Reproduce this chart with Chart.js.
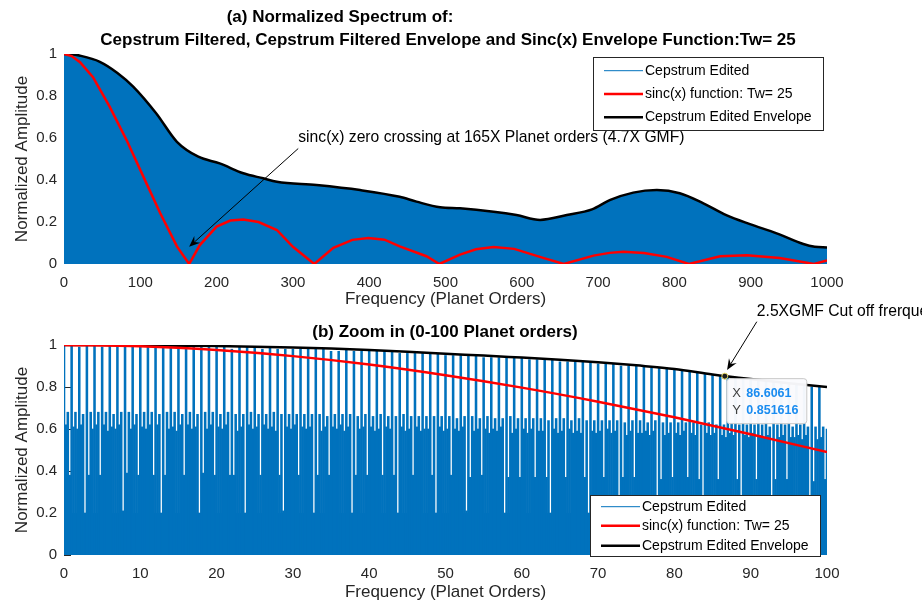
<!DOCTYPE html>
<html>
<head>
<meta charset="utf-8">
<title>Normalized Spectrum</title>
<script src="https://cdn.jsdelivr.net/npm/chart.js@4.4.1/dist/chart.umd.min.js"></script>
<style>
  html, body { margin: 0; padding: 0; background: #fff; }
  #wrap { position: relative; width: 922px; height: 605px; overflow: hidden; }
  canvas { position: absolute; left: 0; }
  #chart-full { top: 0; }
  #chart-zoom { top: 300px; }
</style>
</head>
<body>
<div id="wrap">
  <canvas id="chart-full" width="922" height="310"></canvas>
  <canvas id="chart-zoom" width="922" height="305"></canvas>
</div>
<script>
// --- (a) full spectrum, 0-1000 planet orders ---
const fullOrders   = [0,10,20,47,70,91,121,148,176,204,235,261,279,331,388,440,462,493,519,563,593,624,659,692,716,746,777,807,838,868,899,934,969,984,1000];
const fullEnvelope = [1.0,0.999,0.993,0.963,0.91,0.844,0.717,0.582,0.511,0.479,0.432,0.408,0.392,0.376,0.352,0.32,0.297,0.27,0.265,0.249,0.233,0.21,0.233,0.26,0.305,0.34,0.352,0.337,0.289,0.233,0.19,0.146,0.095,0.082,0.079];
const sincOrders   = [0,10,21,38,60,82,104,126,148,164,178,200,218,235,255,279,300,328,353,378,399,420,440,475,492,519,540,563,590,628,655,694,715,733,760,790,819,860,895,938,983,1000];
const sincValues   = [1.0,0.99,0.961,0.89,0.748,0.59,0.416,0.243,0.084,0.0,0.09,0.178,0.207,0.212,0.2,0.162,0.082,0.0,0.077,0.115,0.124,0.116,0.084,0.037,0.0,0.045,0.07,0.081,0.072,0.029,0.0,0.04,0.053,0.058,0.052,0.034,0.0,0.037,0.042,0.029,0.0,0.017];

// --- (b) zoom 0-100 planet orders ---
const zoomEnvOrders = [0,5,10,15,20,25,30,35,40,45,50,55,60,65,70,75,80,85,90,95,100];
const zoomEnvelope  = [1.0,1.0,0.999,0.997,0.995,0.992,0.988,0.983,0.976,0.968,0.958,0.95,0.94,0.93,0.918,0.903,0.886,0.86,0.838,0.818,0.80];
const zoomSincOrders = [0,10,20,30,40,50,60,70,80,90,100];
const zoomSinc       = [1.0,0.994,0.976,0.947,0.907,0.856,0.797,0.73,0.656,0.575,0.49];

// spike heights, one per planet order (0..100), and the lower spikes between them
const zoomTall = [
  1.00,1.00,0.99,1.00,1.00,0.99,1.00,1.00,0.99,0.99, 1.00,0.99,0.99,0.99,0.99,0.99,0.98,0.99,0.99,0.99,
  0.99,0.99,0.98,0.99,0.99,0.99,0.98,0.99,0.98,0.98, 0.98,0.98,0.98,0.98,0.98,0.97,0.97,0.98,0.97,0.97,
  0.97,0.97,0.97,0.97,0.96,0.96,0.96,0.96,0.96,0.96, 0.95,0.95,0.95,0.95,0.95,0.94,0.94,0.94,0.94,0.94,
  0.94,0.93,0.93,0.93,0.93,0.92,0.92,0.92,0.92,0.92, 0.91,0.91,0.91,0.90,0.90,0.90,0.90,0.89,0.89,0.89,
  0.88,0.88,0.87,0.87,0.86,0.86,0.85,0.85,0.84,0.84, 0.84,0.83,0.83,0.82,0.82,0.82,0.81,0.81,0.80,0.80,
  0.60
];
const zoomQuarter = [
  0.62,0.61,0.62,0.38,0.62,0.62,0.61,0.62,0.39,0.62,0.61,0.62,0.62,0.38,0.61,0.62,0.62,0.61,0.39,0.62,
  0.61,0.62,0.38,0.61,0.62,0.61,0.62,0.61,0.38,0.61,0.62,0.61,0.61,0.38,0.61,0.61,0.62,0.61,0.38,0.61,
  0.61,0.60,0.61,0.38,0.61,0.60,0.61,0.60,0.38,0.61,0.60,0.60,0.61,0.37,0.60,0.60,0.60,0.61,0.37,0.60,
  0.60,0.60,0.59,0.37,0.60,0.59,0.60,0.59,0.37,0.59,0.59,0.60,0.59,0.37,0.59,0.58,0.59,0.59,0.36,0.58,
  0.58,0.59,0.58,0.36,0.58,0.58,0.57,0.58,0.36,0.57,0.58,0.57,0.57,0.36,0.57,0.56,0.57,0.57,0.35,0.56
];
const zoomHalf = [
  0.68,0.68,0.67,0.68,0.68,0.68,0.67,0.68,0.68,0.67,0.68,0.68,0.67,0.68,0.68,0.67,0.68,0.67,0.68,0.68,
  0.67,0.68,0.67,0.67,0.68,0.67,0.67,0.68,0.67,0.67,0.67,0.67,0.67,0.67,0.66,0.67,0.67,0.67,0.66,0.67,
  0.66,0.67,0.66,0.66,0.67,0.66,0.66,0.66,0.66,0.66,0.66,0.65,0.66,0.66,0.65,0.66,0.65,0.65,0.66,0.65,
  0.65,0.65,0.65,0.64,0.65,0.65,0.64,0.65,0.64,0.64,0.64,0.64,0.64,0.63,0.64,0.64,0.63,0.64,0.63,0.63,
  0.63,0.63,0.63,0.62,0.63,0.62,0.62,0.63,0.62,0.62,0.62,0.62,0.61,0.62,0.62,0.61,0.62,0.61,0.61,0.61
];
const zoomThreeQuarter = [
  0.38,0.60,0.20,0.60,0.38,0.59,0.60,0.21,0.60,0.38,0.60,0.38,0.20,0.60,0.59,0.38,0.60,0.20,0.60,0.38,
  0.60,0.38,0.59,0.20,0.60,0.38,0.60,0.59,0.21,0.60,0.38,0.60,0.20,0.59,0.38,0.60,0.59,0.20,0.60,0.38,
  0.59,0.38,0.60,0.20,0.59,0.38,0.59,0.60,0.20,0.59,0.38,0.59,0.21,0.59,0.38,0.58,0.59,0.20,0.58,0.37,
  0.58,0.37,0.59,0.20,0.58,0.37,0.58,0.58,0.20,0.58,0.37,0.58,0.20,0.57,0.37,0.58,0.57,0.20,0.57,0.37,
  0.57,0.37,0.57,0.20,0.57,0.36,0.56,0.57,0.20,0.56,0.36,0.56,0.20,0.56,0.36,0.56,0.55,0.20,0.55,0.36
];
const zoomFloorOrders = [0, 100];
const zoomFloor       = [0.2, 0.2];

// data tip on the envelope
const tipX = 86.6061;
const tipY = 0.851616;

const BLUE = '#0072BD';
const RED = '#FF0000';
const TXT = '#262626';
const FONT = '"Liberation Sans", Arial, Helvetica, sans-serif';
const legendNames = ['Cepstrum Edited', 'sinc(x) function: Tw= 25', 'Cepstrum Edited Envelope'];

function xy(xs, ys){ return xs.map((x, i) => ({ x, y: ys[i] })); }
function spikes(ys, shift){ return ys.map((y, i) => ({ x: i + shift, y })); }

function arrow(ctx, x0, y0, x1, y1){
  const ang = Math.atan2(y1 - y0, x1 - x0);
  const len = 11, half = 4.5;
  ctx.save();
  ctx.strokeStyle = '#000'; ctx.fillStyle = '#000'; ctx.lineWidth = 1;
  ctx.beginPath();
  ctx.moveTo(x0, y0);
  ctx.lineTo(x1 - Math.cos(ang) * 7, y1 - Math.sin(ang) * 7);
  ctx.stroke();
  ctx.translate(x1, y1); ctx.rotate(ang);
  ctx.beginPath();
  ctx.moveTo(0, 0); ctx.lineTo(-len, -half); ctx.lineTo(-len * 0.65, 0); ctx.lineTo(-len, half);
  ctx.closePath(); ctx.fill();
  ctx.restore();
}

function drawLegend(ctx, bx, by, bw, bh, rows){
  const styles = [[BLUE, 1], [RED, 2.5], ['#000', 2.5]];
  ctx.save();
  ctx.fillStyle = '#fff';
  ctx.fillRect(bx, by, bw, bh);
  ctx.strokeStyle = TXT; ctx.lineWidth = 1;
  ctx.strokeRect(bx + 0.5, by + 0.5, bw, bh);
  ctx.font = '14px ' + FONT;
  ctx.textBaseline = 'middle'; ctx.textAlign = 'left';
  legendNames.forEach((name, i) => {
    ctx.strokeStyle = styles[i][0]; ctx.lineWidth = styles[i][1];
    ctx.beginPath(); ctx.moveTo(bx + 11, rows[i]); ctx.lineTo(bx + 50, rows[i]); ctx.stroke();
    ctx.fillStyle = '#000';
    ctx.fillText(name, bx + 52, rows[i]);
  });
  ctx.restore();
}

function axisOpts(min, max, step, label, isX){
  return {
    type: 'linear', min, max, offset: false,
    grid: { display: false, drawTicks: false },
    border: { display: false },
    ticks: { stepSize: step, padding: isX ? 10 : 7, color: TXT, maxRotation: 0, autoSkip: false,
             font: { family: FONT, size: 15 },
             callback: v => String(Math.round(v * 10) / 10) },
    title: { display: true, text: label, color: TXT, font: { family: FONT, size: 17 },
             padding: isX ? { top: 0, bottom: 0 } : { top: 12, bottom: 0 } }
  };
}

Chart.defaults.font.family = FONT;

// ---------- (a) ----------
const fullX = axisOpts(0, 1000, 100, 'Frequency (Planet Orders)', true);
fullX.afterFit = s => { s.height = 46; };
const fullY = axisOpts(0, 1, 0.2, 'Normalized Amplitude', false);
fullY.afterFit = s => { s.width = 64; };

new Chart(document.getElementById('chart-full'), {
  type: 'line',
  data: {
    datasets: [
      { label: legendNames[0], data: xy(fullOrders, fullEnvelope), fill: 'origin', backgroundColor: BLUE,
        borderWidth: 0, pointRadius: 0, cubicInterpolationMode: 'monotone', order: 3 },
      { label: legendNames[1], data: xy(sincOrders, sincValues), borderColor: RED, borderWidth: 2.5,
        pointRadius: 0, tension: 0, fill: false, order: 1 },
      { label: legendNames[2], data: xy(fullOrders, fullEnvelope), borderColor: '#000', borderWidth: 2.5,
        pointRadius: 0, cubicInterpolationMode: 'monotone', fill: false, order: 2 }
    ]
  },
  options: {
    responsive: false, animation: false, events: [],
    layout: { padding: { top: 54, right: 95, left: 0, bottom: 0 } },
    plugins: { legend: { display: false }, tooltip: { enabled: false } },
    scales: { x: fullX, y: fullY }
  },
  plugins: [{
    id: 'decorFull',
    afterDraw(chart){
      const ctx = chart.ctx, sx = chart.scales.x, sy = chart.scales.y;
      ctx.save();
      ctx.fillStyle = '#000';
      ctx.font = 'bold 17px ' + FONT;
      ctx.textAlign = 'center'; ctx.textBaseline = 'middle';
      ctx.fillText('(a) Normalized Spectrum of:', 340, 17);
      ctx.fillText('Cepstrum Filtered, Cepstrum Filtered Envelope and Sinc(x) Envelope Function:Tw= 25', 448, 40);
      ctx.font = '15.7px ' + FONT;
      ctx.textAlign = 'left';
      ctx.fillText('sinc(x) zero crossing at 165X Planet orders (4.7X GMF)', sx.getPixelForValue(307), sy.getPixelForValue(0.6));
      ctx.restore();
      arrow(ctx, sx.getPixelForValue(307), sy.getPixelForValue(0.55), sx.getPixelForValue(164), sy.getPixelForValue(0.082));
      drawLegend(ctx, 593, 57, 230, 73, [70.7, 94, 117.3]);
    }
  }]
});

// ---------- (b) ----------
const zoomX = axisOpts(0, 100, 10, 'Frequency (Planet Orders)', true);
zoomX.afterFit = s => { s.height = 50; };
zoomX.title.padding = { top: 0, bottom: 2 };
const zoomY = axisOpts(0, 1, 0.2, 'Normalized Amplitude', false);
zoomY.afterFit = s => { s.width = 64; };
zoomY.border = { display: true, color: TXT, width: 1 };

const spikeStyle = { type: 'bar', backgroundColor: BLUE, borderWidth: 0, barThickness: 1.9, grouped: false };

new Chart(document.getElementById('chart-zoom'), {
  type: 'line',
  data: {
    datasets: [
      { label: legendNames[1], data: xy(zoomSincOrders, zoomSinc), borderColor: RED, borderWidth: 2.5,
        pointRadius: 0, cubicInterpolationMode: 'monotone', fill: false, order: 1 },
      { label: legendNames[2], data: xy(zoomEnvOrders, zoomEnvelope), borderColor: '#000', borderWidth: 2.5,
        pointRadius: 0, cubicInterpolationMode: 'monotone', fill: false, order: 2 },
      Object.assign({ label: legendNames[0], data: spikes(zoomTall, 0), order: 3 }, spikeStyle),
      Object.assign({ label: 'q1', data: spikes(zoomQuarter, 0.25), order: 4 }, spikeStyle),
      Object.assign({ label: 'q2', data: spikes(zoomHalf, 0.5), order: 5 }, spikeStyle),
      Object.assign({ label: 'q3', data: spikes(zoomThreeQuarter, 0.75), order: 6 }, spikeStyle),
      { label: 'floor', data: xy(zoomFloorOrders, zoomFloor), fill: 'origin', backgroundColor: BLUE,
        borderWidth: 0, pointRadius: 0, order: 7 }
    ]
  },
  options: {
    responsive: false, animation: false, events: [],
    layout: { padding: { top: 45, right: 95, left: 0, bottom: 0 } },
    plugins: { legend: { display: false }, tooltip: { enabled: false } },
    scales: { x: zoomX, y: zoomY }
  },
  plugins: [{
    id: 'decorZoom',
    beforeDatasetsDraw(chart){
      // inward tick marks on the left axis
      const ctx = chart.ctx, sy = chart.scales.y, left = chart.chartArea.left;
      ctx.save();
      ctx.strokeStyle = TXT; ctx.lineWidth = 1;
      sy.ticks.forEach(t => {
        const y = Math.round(sy.getPixelForValue(t.value)) + 0.5;
        ctx.beginPath(); ctx.moveTo(left, y); ctx.lineTo(left + 7, y); ctx.stroke();
      });
      ctx.restore();
    },
    afterDraw(chart){
      const ctx = chart.ctx, sx = chart.scales.x, sy = chart.scales.y;
      ctx.save();
      ctx.fillStyle = '#000';
      ctx.font = 'bold 17px ' + FONT;
      ctx.textAlign = 'center'; ctx.textBaseline = 'middle';
      ctx.fillText('(b) Zoom in (0-100 Planet orders)', 445, 32);
      ctx.font = '15.7px ' + FONT;
      ctx.textAlign = 'left';
      ctx.fillText('2.5XGMF Cut off frerquency', sx.getPixelForValue(90.8), sy.getPixelForValue(1.158));
      ctx.restore();
      arrow(ctx, sx.getPixelForValue(90.8), sy.getPixelForValue(1.111), sx.getPixelForValue(86.9), sy.getPixelForValue(0.881));

      // data tip
      const px = sx.getPixelForValue(tipX), py = sy.getPixelForValue(tipY);
      const bx = px + 1.5, by = py + 2;
      ctx.save();
      ctx.fillStyle = 'rgba(250,250,253,0.97)';
      ctx.strokeStyle = '#c8c8c8'; ctx.lineWidth = 1;
      ctx.beginPath();
      ctx.roundRect(bx + 0.5, by + 0.5, 80, 45, 3);
      ctx.fill(); ctx.stroke();
      ctx.textBaseline = 'middle'; ctx.textAlign = 'left';
      ctx.font = '13px ' + FONT; ctx.fillStyle = '#404040';
      ctx.fillText('X', bx + 6, by + 15);
      ctx.fillText('Y', bx + 6, by + 32);
      ctx.font = 'bold 12.5px ' + FONT; ctx.fillStyle = '#1a8cf0';
      ctx.fillText(String(tipX), bx + 20, by + 15);
      ctx.fillText(String(tipY), bx + 20, by + 32);
      ctx.beginPath();
      ctx.arc(px, py, 3, 0, Math.PI * 2);
      ctx.fillStyle = '#1e1e1e'; ctx.fill();
      ctx.strokeStyle = '#e8dc6a'; ctx.lineWidth = 1; ctx.stroke();
      ctx.restore();

      drawLegend(ctx, 590, 195, 230, 61, [206.7, 225.7, 245.7]);
    }
  }]
});
</script>
</body>
</html>
